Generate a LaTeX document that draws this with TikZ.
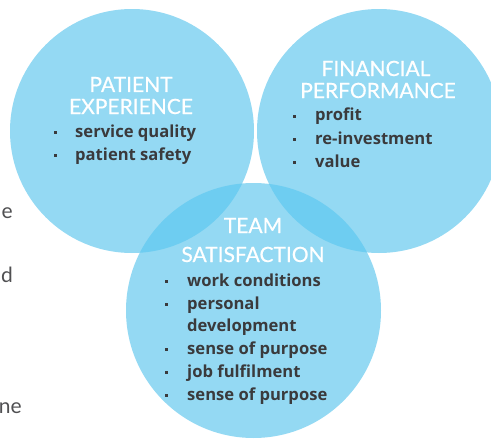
\documentclass[tikz,border=0pt]{standalone}
\usepackage{fontspec}
\setmainfont{Lato}
\newfontfamily\itemfam{Open Sans}
\newfontfamily\headfam{Lato}[FakeBold=0.6]
\definecolor{venn}{HTML}{94D9F3}
\definecolor{vennover}{HTML}{6ECDF1}
\definecolor{ink}{HTML}{3A3A3C}
\definecolor{bodytext}{HTML}{505052}
\newcommand{\headfont}{\headfam\fontsize{21}{24}\selectfont}
\newcommand{\itemfont}{\itemfam\fontsize{16.6}{23}\selectfont\bfseries}
\begin{document}
\begin{tikzpicture}[x=1pt,y=-1pt,
  disc/.style={fill=venn},
  head/.style={text=white, font=\headfont, anchor=base, inner sep=0},
  entry/.style={text=ink, font=\itemfont, anchor=base west, inner sep=0},
  bullet/.style={fill=ink, minimum size=3pt, inner sep=0, anchor=center},
  margintext/.style={text=bodytext, font=\fontsize{21}{24}\selectfont, anchor=base east, inner sep=0}]
\useasboundingbox (0,0) rectangle (491,439);
\begin{scope}
\clip (0,0) rectangle (491,439);
% three discs
\fill[venn] (132,131) circle (122);
\fill[venn] (379,131) circle (122);
\fill[venn] (253.5,310.5) circle (127.5);
% pairwise overlaps
\begin{scope}
  \clip (132,131) circle (122);
  \fill[vennover] (253.5,310.5) circle (127.5);
\end{scope}
\begin{scope}
  \clip (379,131) circle (122);
  \fill[vennover] (253.5,310.5) circle (127.5);
\end{scope}
% fragments of running text at the left edge
\node[margintext] (m1) at (13,218) {e};
\node[margintext] (m2) at (13,282) {d};
\node[margintext] (m3) at (22,413) {ne};
\end{scope}
% patient experience
\node[head] (pe1) at (131,92) {PATIENT};
\node[head] (pe2) at (131,114) {EXPERIENCE};
\foreach \t [count=\i] in {service quality, patient safety}{
  \node[entry] (pt\i) at (75,{137+23*(\i-1)}) {\t};
  \node[bullet] (pb\i) at (55,{137+23*(\i-1)-5}) {};
}
% financial performance
\node[head] (fp1) at (376,76) {FINANCIAL};
\node[head] (fp2) at (378,98) {PERFORMANCE};
\foreach \t [count=\i] in {profit, re-investment, value}{
  \node[entry] (ft\i) at (315,{121+23*(\i-1)}) {\t};
  \node[bullet] (fb\i) at (294,{121+23*(\i-1)-5}) {};
}
% team satisfaction
\node[head] (ts1) at (253,233) {TEAM};
\node[head] (ts2) at (253,262) {SATISFACTION};
\node[entry] (tt1) at (187,286) {work conditions};
\node[bullet] (tb1) at (166,281) {};
\node[entry] (tt2) at (187,309) {personal};
\node[bullet] (tb2) at (166,304) {};
\node[entry] (tt2b) at (187,331) {development};
\node[entry] (tt3) at (187,354) {sense of purpose};
\node[bullet] (tb3) at (166,349) {};
\node[entry] (tt4) at (187,377) {job fulfilment};
\node[bullet] (tb4) at (166,372) {};
\node[entry] (tt5) at (187,400) {sense of purpose};
\node[bullet] (tb5) at (166,395) {};
\end{tikzpicture}
\end{document}
